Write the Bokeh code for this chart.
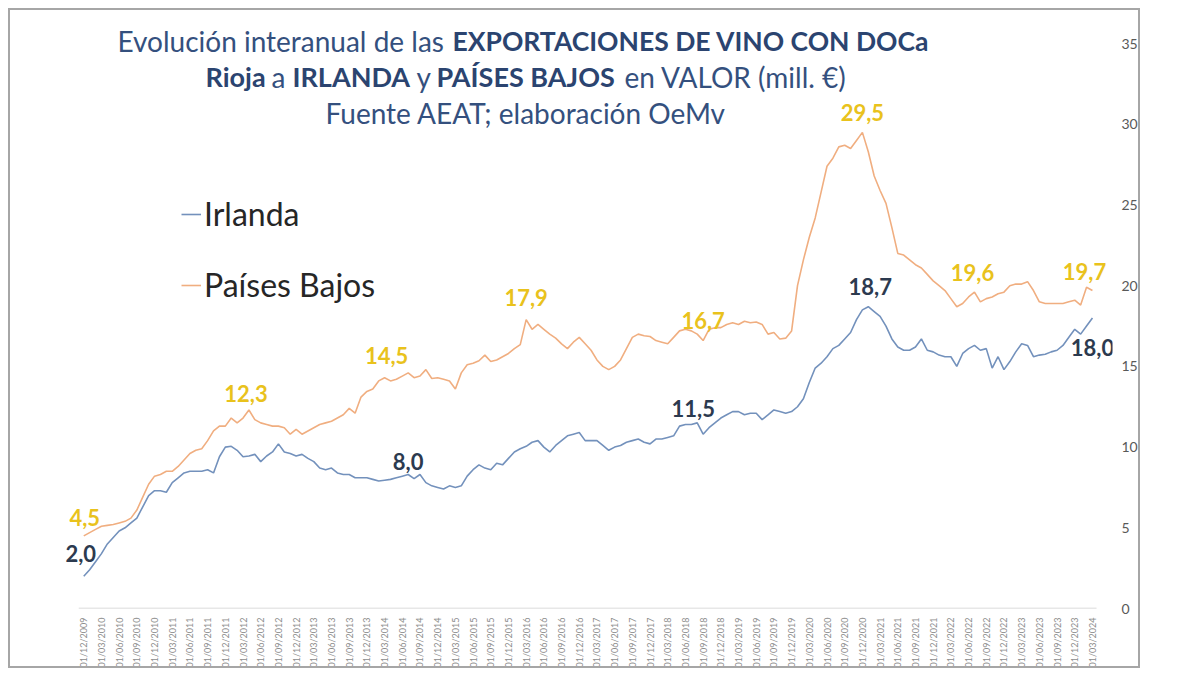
import math
import pandas as pd
from bokeh.plotting import figure
from bokeh.models import Range1d, FixedTicker, Label, Legend, LegendItem
from bokeh.embed import file_html
from bokeh.resources import INLINE

# ---------------- data ----------------
months = pd.date_range("2009-12-01", "2024-03-01", freq="MS")

irlanda = [
    2.0, 2.4, 2.9, 3.4, 4.0, 4.4, 4.8, 5.0, 5.3, 5.6,
    6.3, 7.0, 7.3, 7.3, 7.2, 7.8, 8.1, 8.4, 8.5, 8.5,
    8.5, 8.6, 8.4, 9.4, 10.0, 10.05, 9.8, 9.4, 9.45, 9.55,
    9.1, 9.45, 9.7, 10.2, 9.7, 9.6, 9.45, 9.55, 9.3, 9.1,
    8.7, 8.6, 8.7, 8.4, 8.3, 8.3, 8.1, 8.1, 8.1, 8.0,
    7.9, 7.95, 8.0, 8.1, 8.2, 8.3, 8.05, 8.3, 7.8, 7.6,
    7.5, 7.4, 7.6, 7.5, 7.6, 8.2, 8.6, 8.9, 8.7, 8.6,
    9.0, 8.9, 9.3, 9.7, 9.9, 10.05, 10.3, 10.4, 10.0, 9.7,
    10.1, 10.4, 10.7, 10.8, 10.9, 10.4, 10.4, 10.4, 10.1, 9.8,
    10.0, 10.1, 10.3, 10.4, 10.5, 10.3, 10.2, 10.5, 10.5, 10.6,
    10.7, 11.3, 11.4, 11.4, 11.5, 10.8, 11.2, 11.5, 11.8, 12.0,
    12.2, 12.2, 12.0, 12.1, 12.1, 11.7, 12.0, 12.3, 12.2, 12.1,
    12.2, 12.5, 13.0, 14.0, 14.9, 15.2, 15.6, 16.1, 16.3, 16.7,
    17.1, 17.9, 18.5, 18.7, 18.4, 18.1, 17.5, 16.7, 16.2, 16.0,
    16.0, 16.2, 16.7, 16.0, 15.9, 15.7, 15.6, 15.6, 15.0, 15.8,
    16.1, 16.3, 16.0, 16.1, 14.9, 15.6, 14.8, 15.3, 15.9, 16.4,
    16.3, 15.6, 15.7, 15.75, 15.9, 16.0, 16.3, 16.8, 17.3, 17.0,
    17.5, 18.0,
]

paises_bajos = [
    4.5, 4.7, 4.9, 5.1, 5.15, 5.2, 5.3, 5.4, 5.6, 6.1,
    6.9, 7.7, 8.2, 8.3, 8.5, 8.5, 8.8, 9.2, 9.6, 9.8,
    9.9, 10.4, 11.0, 11.3, 11.3, 11.8, 11.5, 11.8, 12.3, 11.7,
    11.5, 11.4, 11.3, 11.3, 11.2, 10.8, 11.1, 10.8, 11.0, 11.2,
    11.4, 11.5, 11.6, 11.8, 12.0, 12.4, 12.1, 13.1, 13.45, 13.6,
    14.1, 14.3, 14.1, 14.2, 14.4, 14.6, 14.3, 14.4, 14.8, 14.25,
    14.3, 14.2, 14.1, 13.6, 14.6, 15.1, 15.2, 15.35, 15.7, 15.3,
    15.4, 15.6, 15.8, 16.1, 16.35, 17.9, 17.3, 17.6, 17.3, 17.0,
    16.75, 16.4, 16.1, 16.5, 16.8, 16.4, 16.0, 15.4, 15.0, 14.8,
    15.0, 15.4, 16.1, 16.8, 17.0, 16.9, 16.85, 16.6, 16.5, 16.4,
    16.8, 17.2, 17.3, 17.2, 17.0, 16.6, 17.3, 17.4, 17.4, 17.6,
    17.7, 17.6, 17.8, 17.7, 17.75, 17.6, 17.0, 17.1, 16.7, 16.75,
    17.2, 20.0, 21.6, 23.0, 24.2, 25.8, 27.4, 27.9, 28.6, 28.7,
    28.5, 29.0, 29.5, 28.3, 26.8, 25.9, 25.1, 23.6, 22.0, 21.9,
    21.6, 21.3, 21.1, 20.7, 20.3, 20.0, 19.7, 19.2, 18.7, 18.9,
    19.3, 19.6, 19.0, 19.2, 19.3, 19.5, 19.6, 20.0, 20.1, 20.1,
    20.25, 19.7, 19.0, 18.9, 18.9, 18.9, 18.9, 19.0, 19.1, 18.8,
    19.9, 19.7,
]

# annotated points (month index, text)
irl_lab_idx = [0, 55, 104, 133, 171]
irl_lab_txt = ["2,0", "8,0", "11,5", "18,7", "18,0"]
pb_lab_idx = [0, 28, 51, 75, 105, 132, 151, 171]
pb_lab_txt = ["4,5", "12,3", "14,5", "17,9", "16,7", "29,5", "19,6", "19,7"]

y_ticks = [0, 5, 10, 15, 20, 25, 30, 35]
tick_idx = list(range(0, len(months), 3))
tick_labels = [months[i].strftime("%d/%m/%Y") for i in tick_idx]

# ---------------- figure ----------------
FONT = "Lato"
x = list(range(len(months)))

p = figure(width=1132, height=660, output_backend="svg", toolbar_location=None,
           x_range=Range1d(-12.42, 174.4), y_range=Range1d(0, 37.05),
           y_axis_location="right",
           min_border_left=0, min_border_right=30, min_border_top=0,
           min_border_bottom=58)
p.styles = {"border": "2px solid #a6a6a6", "box-sizing": "border-box",
            "margin-left": "8px", "margin-top": "8px"}
p.outline_line_color = None
p.xgrid.visible = False
p.ygrid.visible = False

# baseline of the category axis (spans the data, as in the original)
p.line([x[0] - 0.85, x[-1] + 0.7], [0, 0], line_color="#d0d0d0", line_width=1.5)

r_irl = p.line(x, irlanda, line_color="#7391BC", line_width=1.6)
r_pb = p.line(x, paises_bajos, line_color="#F0AE80", line_width=1.6)

# axes
xa = p.xaxis[0]
xa.ticker = FixedTicker(ticks=tick_idx)
xa.major_label_overrides = {i: l for i, l in zip(tick_idx, tick_labels)}
xa.major_label_orientation = math.pi / 2
xa.major_label_text_font = FONT
xa.major_label_text_font_size = "9px"
xa.major_label_text_color = "#8c8c8c"
xa.major_label_standoff = 3
xa.axis_line_color = None
xa.major_tick_line_color = None
xa.minor_tick_line_color = None

ya = p.yaxis[0]
ya.ticker = FixedTicker(ticks=y_ticks)
ya.axis_line_color = None
ya.major_tick_line_color = None
ya.minor_tick_line_color = None
ya.major_label_standoff = 3
ya.major_label_text_font = FONT
ya.major_label_text_font_size = "14px"
ya.major_label_text_color = "#595959"

# value labels (offsets in px, positive = up)
irl_off = [(-3, 23), (0, 13), (-4, 14), (2, 20), (0, -30)]
pb_off = [(1, 18), (-3, 16), (2, 22), (0, 22), (0, 20), (0, 20), (-2, 20), (-8, 19)]
for idxs, txts, offs, series, col in (
        (irl_lab_idx, irl_lab_txt, irl_off, irlanda, "#2C3A4F"),
        (pb_lab_idx, pb_lab_txt, pb_off, paises_bajos, "#E9C21C")):
    for i, t, (dx, dy) in zip(idxs, txts, offs):
        p.add_layout(Label(x=i, y=series[i], text=t, x_offset=dx, y_offset=dy,
                           text_font=FONT, text_font_style="bold",
                           text_font_size="22px", text_color=col,
                           text_align="center", text_baseline="middle"))

# legend
legend = Legend(items=[LegendItem(label="Irlanda", renderers=[r_irl]),
                       LegendItem(label="Países Bajos", renderers=[r_pb])],
                location=(171, 304), orientation="vertical",
                label_text_font=FONT, label_text_font_size="32px",
                label_text_color="#262626", glyph_width=20, glyph_height=32,
                label_height=32, spacing=32, padding=0, margin=0,
                label_standoff=3, border_line_color=None,
                background_fill_alpha=0)
p.add_layout(legend)

# title (three centred lines, mixed weights); positions relative to the frame
FX, FY = 10, 608   # frame left / bottom on the page
NORMAL = "#34507E"
BOLD = "#2B4470"
runs = [
    ("Evolución interanual de las", 117, 40, "normal", 28),
    ("EXPORTACIONES DE VINO CON DOCa", 452, 40, "bold", 26.5),
    ("Rioja", 205, 76, "bold", 27),
    ("a", 271, 76, "normal", 28),
    ("IRLANDA", 292, 76, "bold", 27),
    ("y", 416, 76, "normal", 28),
    ("PAÍSES BAJOS", 436, 76, "bold", 27),
    ("en VALOR (mill. €)", 624, 76, "normal", 28),
    ("Fuente AEAT; elaboración OeMv", 325, 112, "normal", 28),
]
for txt, px, py, style, size in runs:
    p.add_layout(Label(x=px - FX, y=FY - py, x_units="screen", y_units="screen",
                       text=txt, text_font=FONT, text_font_size=f"{size}px",
                       text_font_style=style,
                       text_color=BOLD if style == "bold" else NORMAL,
                       text_align="left", text_baseline="middle"))

open("out.html", "w").write(file_html(p, INLINE))
